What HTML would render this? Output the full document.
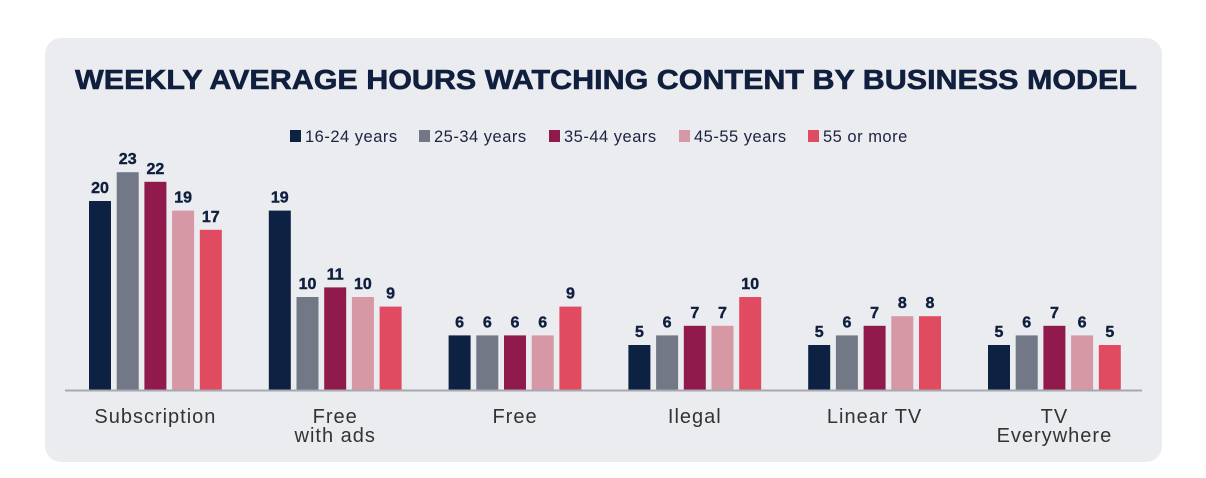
<!DOCTYPE html>
<html><head><meta charset="utf-8"><style>
body{margin:0;background:#fff;width:1206px;height:473px;overflow:hidden;font-family:"Liberation Sans",sans-serif}
</style></head><body>
<svg width="1206" height="473">
<rect x="45" y="38" width="1117" height="424" rx="16" fill="#ebecf0"/>
<text x="75" y="89" textLength="1062" lengthAdjust="spacingAndGlyphs" font-size="28" font-weight="bold" fill="#0f1f3d" stroke="#0f1f3d" stroke-width="0.6">WEEKLY AVERAGE HOURS WATCHING CONTENT BY BUSINESS MODEL</text>
<g id="legend"></g>
<g id="bars"></g>
<line x1="65" y1="390.5" x2="1142" y2="390.5" stroke="#a7a9b0" stroke-width="2"/>
<g id="labels"></g>
</svg>
<script>
const categories=[["Subscription"],["Free","with ads"],["Free"],["Ilegal"],["Linear TV"],["TV","Everywhere"]];
const seriesNames=["16-24 years","25-34 years","35-44 years","45-55 years","55 or more"];
const s1=[20,19,6,5,5,5];
const s2=[23,10,6,6,6,6];
const s3=[22,11,6,7,7,7];
const s4=[19,10,6,7,8,6];
const s5=[17,9,9,10,8,5];
const series=[s1,s2,s3,s4,s5];
const colors=["#0d2143","#737886","#8f1a4b","#d598a4","#e04b61"];
const NS="http://www.w3.org/2000/svg";
const base=390, g0=89, gStep=179.8, bStep=27.7, bw=22;
function yh(v){return 9.6*v-3;}
function mk(t,a,p){const e=document.createElementNS(NS,t);for(const k in a)e.setAttribute(k,a[k]);p.appendChild(e);return e;}
const bars=document.getElementById('bars'),labels=document.getElementById('labels'),legend=document.getElementById('legend');
categories.forEach((c,i)=>{
  series.forEach((s,j)=>{
    const x=g0+i*gStep+j*bStep,h=yh(s[i]);
    const r=mk('rect',{x:x,y:base-h,width:bw,height:h,fill:colors[j]},bars);
    
    
    const t=mk('text',{x:x+bw/2,y:base-h-8,'text-anchor':'middle','font-size':'16','font-weight':'bold',fill:'#0f1f3d',stroke:'#0f1f3d','stroke-width':'0.4'},bars);
    t.textContent=s[i];
    
    
  });
  const cx=g0+i*gStep+(4*bStep+bw)/2;
  c.forEach((line,k)=>{
    const t=mk('text',{x:cx,y:423+k*19,'text-anchor':'middle','font-size':'20','letter-spacing':'1',fill:'#333'},labels);
    t.textContent=line;
    
    
  });
});
const lx=[290,419,549,679,808];
seriesNames.forEach((n,j)=>{
  const r=mk('rect',{x:lx[j],y:130,width:11,height:12,fill:colors[j]},legend);
  
  
  const t=mk('text',{x:lx[j]+15,y:142,'font-size':'16.5','letter-spacing':'0.5',fill:'#1a2340'},legend);
  t.textContent=n;
  
  
});
</script>
</body></html>
